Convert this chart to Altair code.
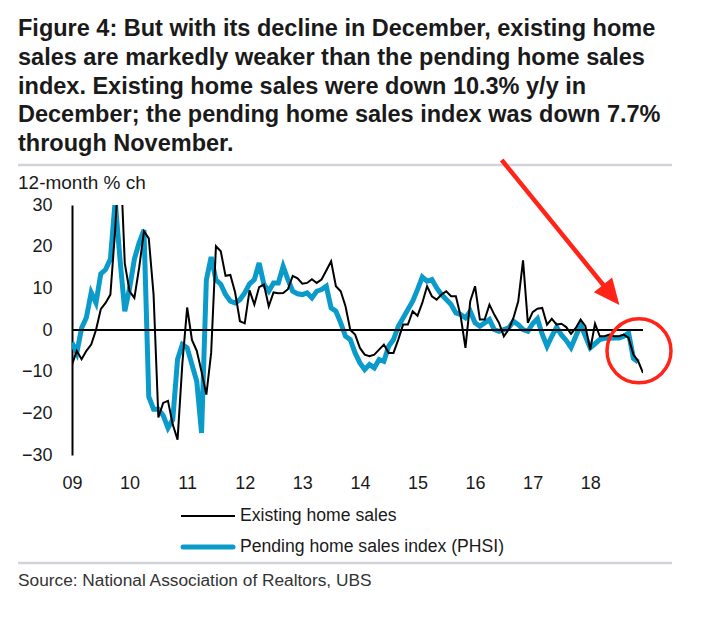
import altair as alt
import pandas as pd

# ---- data (monthly, Jan 2009 onward) ----
existing = [
    -8.3, -5, -7, -5, -3.5, 0, 5, 6.5, 8.5, 24, 44, 16,
    9.3, 7.7, 15, 23.7, 22, 8.5, -21, -17.5, -17, -22.7, -26.3, -8,
    5.4, -2.4, -5, -10, -15.5, -5.5, 20.1, 18.9, 13, 13.2, 9, 2.1,
    1.6, 9.5, 6.1, 10.3, 10.9, 5.7, 9, 8.8, 8.9, 9.8, 13, 12.4,
    11.1, 11.3, 12.2, 11.3, 12.1, 14.3, 16.5, 10.5, 9.3, 5.7, 0, -1.1,
    -4.3, -5.9, -6.3, -5.9, -4.7, -3.5, -5.5, -5.5, -2.3, 1.3, 1.3, 4.5,
    3.4, 6.5, 10.5, 8.1, 7.3, 8.5, 9.3, 8.1, 8.1, 3.3, -4.3, 6.9,
    10.5, 2.5, 2.5, 6.1, 3.7, 1.7, -1.5, 0.1, 2.9, 6.9, 16.7, 1.7,
    4.3, 5.1, 5.3, 1.3, 2.7, 1.3, 1.5, 0.7, -0.9, 0.5, 2.5, 0.9,
    -4.7, 1.5, -1.5, -1.5, -1.1, -1.5, -1.5, -1.1, -1.9, -5.9, -7.5, -10.3,
]
pending = [
    -3, -5.5, 0.5, 3, 9, 6.5, 13.5, 14.5, 17, 31, 17, 4.5,
    10, 17, 21, 24, -16, -19, -19, -20.5, -23.5, -21.5, -7, -3.5,
    -4.3, -8.3, -12.3, -24.7, 12, 17.5, 12, 11, 8.5, 6.9, 6.5, 7.3,
    8.9, 11.1, 12.1, 16.1, 10.9, 9.3, 11.3, 11.3, 15.3, 12.1, 9.3, 8.7,
    8.5, 8.9, 7.7, 9.3, 9.7, 10.5, 5.3, 4.5, 1.7, -1.5, -2.3, -5.5,
    -7.9, -9.5, -8.3, -9.1, -7.1, -7.5, -3.9, -2.3, 0.9, 2.9, 4.9, 6.9,
    9.7, 12.7, 11.7, 12.1, 10.1, 8.5, 7.3, 6.1, 4.1, 3.7, 2.9, 4.5,
    1.7, 0.9, 1.7, 2.5, 0.1, -0.3, 0.1, 0.5, 2.1, 1.3, 0.1, -0.3,
    1.5, 2.7, -1, -3.9, -1.5, 0.7, -1.2, -2.5, -4.2, -1.5, 1.3, -1.5,
    -4.3, -3.3, -2.3, -2, -2, -1.9, -1.9, -1.5, -0.7, -6.8, -7.7,
]
year_ticks = list(range(2009, 2019))
y_ticks = [-30, -20, -10, 0, 10, 20, 30]
title_lines = [
    "Figure 4: But with its decline in December, existing home",
    "sales are markedly weaker than the pending home sales",
    "index. Existing home sales were down 10.3% y/y in",
    "December; the pending home sales index was down 7.7%",
    "through November.",
]
legend_labels = ["Existing home sales", "Pending home sales index (PHSI)"]
source_text = "Source: National Association of Realtors, UBS"
y_title = "12-month % ch"

START = 2009.0
df_e = pd.DataFrame({"t": [START + i / 12 for i in range(len(existing))], "v": existing})
df_p = pd.DataFrame({"t": [START + i / 12 for i in range(len(pending))], "v": pending})

X_DOMAIN = [START, START + (len(existing) - 1) / 12]
FONT = "Liberation Sans"
BLUE = "#0a9bcb"
RED = "#ff2417"
GRAY = "#d3d3dc"

xs = alt.Scale(domain=X_DOMAIN, nice=False, zero=False)
ys = alt.Scale(domain=[-30, 30], nice=False, zero=False)

x_axis = alt.Axis(values=year_ticks, format="d", labelExpr="slice(datum.label, 2)",
                  ticks=False, domain=False, grid=False, labelPadding=19,
                  labelFontSize=18, labelFont=FONT, labelColor="#1a1a1a",
                  labelFlush=False, labelOverlap=False, title=None)
y_axis = alt.Axis(values=y_ticks, ticks=False, domain=True, domainColor="black",
                  domainWidth=2, grid=False, labelPadding=20, labelFontSize=18,
                  labelFont=FONT, labelColor="#1a1a1a", title=None)

one = pd.DataFrame({"k": [0]})

blue_line = alt.Chart(df_p).mark_line(color=BLUE, strokeWidth=5, clip=True,
                                      strokeJoin="miter").encode(
    x=alt.X("t:Q", scale=xs, axis=x_axis),
    y=alt.Y("v:Q", scale=ys, axis=y_axis),
)
black_line = alt.Chart(df_e).mark_line(color="black", strokeWidth=2, clip=True).encode(
    x=alt.X("t:Q", scale=xs),
    y=alt.Y("v:Q", scale=ys),
)
zero_rule = alt.Chart(pd.DataFrame({"z": [0]})).mark_rule(color="black", strokeWidth=2).encode(
    y=alt.Y("z:Q", scale=ys),
    x=alt.value(0), x2=alt.value(571),
)

def txt(s, x, y, size, font=FONT, weight="normal", color="#1a1a1a", **kw):
    return alt.Chart(one).mark_text(align="left", baseline="middle", font=font,
                                    fontSize=size, fontWeight=weight, color=color, **kw).encode(
        x=alt.value(x), y=alt.value(y), text=alt.value(s))

title = alt.Chart(one).mark_text(align="left", baseline="top", font=FONT, fontSize=23.5,
                                 fontWeight="bold", color="#1a1a1a", lineBreak="\n",
                                 lineHeight=28.8).encode(
    x=alt.value(-54), y=alt.value(-188), text=alt.value("\n".join(title_lines)))

def hrule(x1, x2, y, color, w):
    return alt.Chart(one).mark_rule(color=color, strokeWidth=w).encode(
        x=alt.value(x1), x2=alt.value(x2), y=alt.value(y))

top_rule = hrule(-54, 600, -40, GRAY, 2.5)
bottom_rule = hrule(-54, 600, 358, GRAY, 2.5)
ytitle = txt(y_title, -54, -22, 19)
leg1_line = hrule(109, 163, 311, "black", 2)
leg2_line = alt.Chart(one).mark_rule(color=BLUE, strokeWidth=5, strokeCap="round").encode(
    x=alt.value(111), x2=alt.value(161), y=alt.value(342))
leg1_txt = txt(legend_labels[0], 168, 311, 17.6)
leg2_txt = txt(legend_labels[1], 168, 342, 17.6)
src = txt(source_text, -54, 376, 17.3, color="#333333")

arrow_shaft = alt.Chart(one).mark_rule(color=RED, strokeWidth=4.5).encode(
    x=alt.value(429.7), y=alt.value(-45), x2=alt.value(535), y2=alt.value(84.5))
arrow_head = alt.Chart(one).mark_point(shape="M0,-1L0.9,1L-0.9,1Z", filled=True,
                                       color=RED, opacity=1, size=680, angle=141,
                                       strokeWidth=0).encode(
    x=alt.value(539.2), y=alt.value(89.9))
ring = alt.Chart(one).mark_point(shape="circle", filled=False, color=RED, opacity=1,
                                 size=4096, strokeWidth=3.5).encode(
    x=alt.value(567), y=alt.value(145.8))

chart = alt.layer(
    blue_line, black_line, zero_rule, title, top_rule, bottom_rule, ytitle,
    leg1_line, leg2_line, leg1_txt, leg2_txt, src, arrow_shaft, arrow_head, ring,
).properties(
    width=571, height=250,
    autosize=alt.AutoSizeParams(type="none"),
    padding={"left": 64, "top": 197, "right": 50, "bottom": 140},
    background="white",
).configure_view(stroke=None)

chart.save("out.html", embed_options={"renderer": "svg", "actions": False})
